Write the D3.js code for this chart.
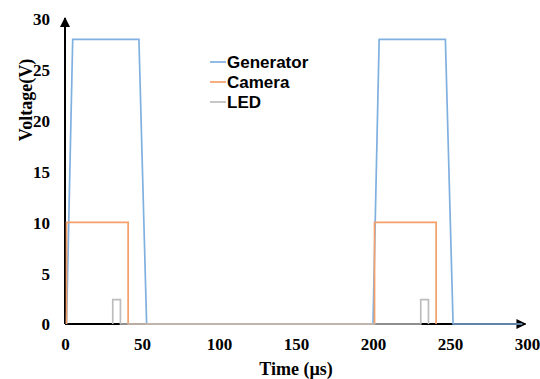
<!DOCTYPE html>
<html>
<head>
<meta charset="utf-8">
<script src="https://cdn.jsdelivr.net/npm/d3@7"></script>
<style>
  body { margin: 0; background: #fff; }
  .tick text { font-family: "Liberation Serif", "Times New Roman", serif; font-weight: bold; font-size: 17px; fill: #000; }
  .graph-label { font-family: "Liberation Serif", "Times New Roman", serif; font-weight: bold; font-size: 18px; fill: #000; }
  .legend-text { font-family: "Liberation Sans", Arial, sans-serif; font-weight: bold; font-size: 17px; fill: #000; }
</style>
</head>
<body>
<svg></svg>
<script>
// Data (time in µs, voltage in V)
let generator = [
    {t: 1, v: 0}, {t: 5, v: 28}, {t: 48, v: 28}, {t: 53, v: 0},
    {t: 200, v: 0}, {t: 204, v: 28}, {t: 247, v: 28}, {t: 252, v: 0},
    {t: 297, v: 0}
]
let camera = [
    {t: 1, v: 0}, {t: 1, v: 10}, {t: 41, v: 10}, {t: 41, v: 0},
    {t: 201, v: 0}, {t: 201, v: 10}, {t: 241, v: 10}, {t: 241, v: 0}
]
let led = [
    {t: 31, v: 0}, {t: 31, v: 2.4}, {t: 36, v: 2.4}, {t: 36, v: 0},
    {t: 231, v: 0}, {t: 231, v: 2.4}, {t: 236, v: 2.4}, {t: 236, v: 0}
]
let seriesNames = ['Generator', 'Camera', 'LED']
let seriesColors = ['#7fb0e0', '#f4a06a', '#bdbdbd']
let xTicks = [0, 50, 100, 150, 200, 250, 300]
let yTicks = [0, 5, 10, 15, 20, 25, 30]

// Graph Dimensions
let width = 540
let height = 379
let margin = {left: 65, right: 13, top: 19, bottom: 55}

// Scales
let scale = {
    x: d3.scaleLinear().domain([0, 300]).range([margin.left, margin.left + 462]),
    y: d3.scaleLinear().domain([0, 30]).range([height - margin.bottom, margin.top])
}

let svg = d3.select('svg')
    .attr('width', width)
    .attr('height', height)

// Arrow markers
let defs = svg.append('defs')
defs.append('marker')
    .attr('id', 'arrow')
    .attr('viewBox', '0 0 10 10')
    .attr('refX', 9)
    .attr('refY', 5)
    .attr('markerWidth', 5)
    .attr('markerHeight', 5)
    .attr('markerUnits', 'strokeWidth')
    .attr('orient', 'auto')
    .append('path')
    .attr('d', 'M0,0 L10,5 L0,10 z')
    .attr('fill', '#000')

// Axes (labels only, no tick marks)
let axis = {
    x: d3.axisBottom(scale.x).tickValues(xTicks).tickSize(0).tickPadding(14),
    y: d3.axisLeft(scale.y).tickValues(yTicks).tickSize(0).tickPadding(15)
}

svg.append('g')
    .attr('transform', `translate(0,${scale.y(0)})`)
    .call(axis.x)
    .call(g => g.select('.domain').remove())

svg.append('g')
    .attr('transform', `translate(${scale.x(0)},0)`)
    .call(axis.y)
    .call(g => g.select('.domain').remove())
    .selectAll('.tick text').attr('dy', '0.35em')

// Axis lines with arrows
svg.append('line')
    .attr('x1', scale.x(0))
    .attr('y1', scale.y(0))
    .attr('x2', scale.x(299))
    .attr('y2', scale.y(0))
    .attr('stroke', '#000')
    .attr('stroke-width', 2)
    .attr('marker-end', 'url(#arrow)')

svg.append('line')
    .attr('x1', scale.x(0))
    .attr('y1', scale.y(0))
    .attr('x2', scale.x(0))
    .attr('y2', scale.y(30) - 1)
    .attr('stroke', '#000')
    .attr('stroke-width', 2)
    .attr('marker-end', 'url(#arrow)')

// Lines
let line = d3.line()
    .x(d => scale.x(d.t))
    .y(d => scale.y(d.v))

let allSeries = [generator, camera, led]
allSeries.forEach((data, i) => {
    svg.append('path')
        .datum(data)
        .attr('d', line)
        .style('fill', 'none')
        .style('stroke', seriesColors[i])
        .style('stroke-width', 1.7)
})

// Legend
let legend = svg.append('g')
    .attr('transform', 'translate(210,62)')

seriesNames.forEach((name, i) => {
    let g = legend.append('g').attr('transform', `translate(0,${i * 20})`)
    g.append('line')
        .attr('x1', 0).attr('x2', 16)
        .attr('y1', 0).attr('y2', 0)
        .attr('stroke', seriesColors[i])
        .attr('stroke-width', 1.7)
    g.append('text')
        .attr('class', 'legend-text')
        .attr('x', 17)
        .attr('y', 0)
        .attr('dy', '0.35em')
        .text(name)
})

// X label
svg.append('text')
    .attr('x', scale.x(150))
    .attr('y', 375)
    .attr('text-anchor', 'middle')
    .attr('class', 'graph-label')
    .text('Time (µs)')

// Y label
svg.append('text')
    .attr('x', -100)
    .attr('y', 32)
    .attr('text-anchor', 'middle')
    .attr('transform', 'rotate(270)')
    .attr('class', 'graph-label')
    .text('Voltage(V)')
</script>
</body>
</html>
